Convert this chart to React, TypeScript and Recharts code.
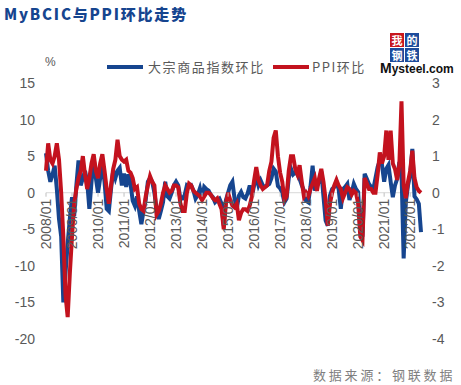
import React from "react";
import { LineChart, Line, XAxis, YAxis, ReferenceLine } from "recharts";

// MyBCIC month-on-month change (%), left axis
const bcic2008 = [5.4, 3.0, 1.5, 2.5, 3.7, 0.5, -3.6, -6.0, -15.0, -11.0, -7.0, -3.5];
const bcic2009 = [-0.6, -3.2, 1.0, 4.4, 1.0, 2.0, 3.0, 1.5, -2.2, 1.5, 4.7, 2.0];
const bcic2010 = [0.0, 2.0, 4.0, 1.5, -2.2, -2.5, 0.5, 3.0, 2.0, 3.0, 3.4, 1.0];
const bcic2011 = [2.6, 0.8, 2.5, 1.2, -1.1, -1.8, -0.5, -2.5, -4.3, -2.5, -1.0, 1.5];
const bcic2012 = [2.0, 1.5, 0.0, -2.2, -3.6, -2.5, -1.3, 1.5, -0.5, -0.8, 0.0, 1.0];
const bcic2013 = [1.5, 1.0, -0.8, -0.8, -0.3, 1.0, 0.8, 1.0, 0.3, -0.8, -0.3, 0.6];
const bcic2014 = [-0.8, 0.8, 0.5, 0.3, -0.3, -0.6, -1.3, -1.0, -0.8, -1.5, -4.5, -1.0];
const bcic2015 = [0.0, 1.0, 1.5, -0.8, -2.2, -0.4, 0.1, -0.6, -0.8, -0.1, 1.0, -0.5];
const bcic2016 = [1.0, 2.2, 1.0, 1.7, 1.0, 0.8, 1.0, 1.2, 2.0, 3.3, 2.9, 0.9];
const bcic2017 = [0.6, 0.0, -1.3, -0.8, 2.0, 3.3, 2.5, 2.8, 2.5, 1.9, 1.0, 0.3];
const bcic2018 = [-1.1, -1.3, 0.8, 3.7, 0.3, 1.0, 1.5, 2.9, -0.5, -3.8, -4.5, -0.4];
const bcic2019 = [0.5, 0.8, 1.5, 0.5, -2.2, 0.5, 0.8, 1.2, -1.0, 0.0, 1.2, 0.5];
const bcic2020 = [0.1, -5.0, -6.0, 2.6, 1.9, 1.2, 0.8, 0.5, 2.0, 3.5, 4.4, 3.8];
const bcic2021 = [1.5, 3.3, 3.8, 1.5, -0.6, 1.0, 1.9, 4.2, 3.0, -9.0, -1.3, 1.0];
const bcic2022 = [2.4, 6.0, -0.5, -0.9, -1.5, -5.4];

// PPI month-on-month change (%), right axis
const ppi2008 = [0.6, 1.35, 0.9, 0.8, 1.0, 1.35, 0.9, 0.0, -1.2, -2.8, -3.4, -2.2];
const ppi2009 = [-1.2, -0.3, 0.1, 0.4, 0.6, 1.0, 0.5, 0.1, 0.4, 0.8, 1.05, 0.6];
const ppi2010 = [0.4, 0.8, 1.05, 0.6, 0.1, -0.3, 0.2, 0.65, 0.9, 1.45, 1.0, 0.9];
const ppi2011 = [0.85, 0.9, 0.6, 0.55, 0.4, 0.1, 0.15, -0.3, -0.45, -0.5, -0.1, 0.2];
const ppi2012 = [0.45, 0.3, 0.2, -0.6, -0.5, -0.3, 0.0, 0.2, 0.1, 0.0, 0.05, 0.2];
const ppi2013 = [0.2, 0.15, -0.3, -0.5, -0.5, 0.0, 0.25, 0.2, 0.05, 0.0, -0.05, -0.1];
const ppi2014 = [-0.2, -0.1, 0.0, 0.0, -0.05, -0.15, -0.2, -0.15, -0.3, -0.45, -1.0, -0.3];
const ppi2015 = [0.0, -0.2, -0.35, -0.4, -0.3, -0.75, -0.55, -0.45, -0.45, -0.5, -0.35, -0.1];
const ppi2016 = [0.33, 0.7, 0.35, 0.2, 0.1, 0.15, 0.2, 0.6, 0.85, 1.5, 1.7, 1.0];
const ppi2017 = [0.55, 0.3, -0.2, -0.1, 0.6, 1.0, 1.0, 0.65, 0.5, 0.75, 0.3, -0.1];
const ppi2018 = [0.0, -0.1, 0.1, 0.25, 0.4, 0.05, 0.4, 0.65, 0.3, -0.2, -0.9, -0.3];
const ppi2019 = [0.0, 0.2, 0.35, 0.2, 0.1, -0.15, 0.0, 0.15, 0.1, -0.05, 0.05, 0.0];
const ppi2020 = [-0.3, -1.2, -1.3, 0.4, 0.25, 0.1, 0.1, 0.0, 0.0, 0.5, 1.1, 0.8];
const ppi2021 = [1.0, 1.7, 0.9, 1.7, 0.8, 0.65, 0.35, 0.75, 2.5, 0.2, -0.15, 0.3];
const ppi2022 = [0.6, 1.15, 0.4, 0.15, 0.05, 0.0];

const START_YEAR = 2008;
const leftTicks = [15, 10, 5, 0, -5, -10, -15, -20];
const rightTicks = [3, 2, 1, 0, -1, -2, -3, -4];

const bcic = [
  bcic2008, bcic2009, bcic2010, bcic2011, bcic2012, bcic2013, bcic2014, bcic2015,
  bcic2016, bcic2017, bcic2018, bcic2019, bcic2020, bcic2021, bcic2022,
].flat();
const ppi = [
  ppi2008, ppi2009, ppi2010, ppi2011, ppi2012, ppi2013, ppi2014, ppi2015,
  ppi2016, ppi2017, ppi2018, ppi2019, ppi2020, ppi2021, ppi2022,
].flat();

const chartData = bcic.map((v, i) => {
  const y = START_YEAR + Math.floor(i / 12);
  const m = (i % 12) + 1;
  return { month: `${y}/${m < 10 ? "0" + m : m}`, bcic: v, ppi: ppi[i] };
});

const W = 461;
const H = 385;
const TOP = 83;
const BOTTOM = 46;
const X_AXIS_H = 1;
const LEFT_W = 46;
const RIGHT_W = 40;
const LEFT_DOMAIN: [number, number] = [-20, 15];
const RIGHT_DOMAIN: [number, number] = [-4, 3];

const BLUE = "#16458f";
const RED = "#c3121e";
const GREY = "#595959";
const FONT = "'Liberation Sans', Arial, 'Noto Sans CJK SC', sans-serif";
const CJK = "'Noto Sans CJK SC', sans-serif";

// month labels hang below the zero line
const zeroY = TOP + ((H - TOP - BOTTOM) * LEFT_DOMAIN[1]) / (LEFT_DOMAIN[1] - LEFT_DOMAIN[0]);

const MonthTick = (props: any) => {
  const { x, payload } = props;
  return (
    <g transform={`translate(${x},${zeroY})`}>
      <line x1={0} x2={0} y1={0} y2={4} stroke="#bfbfbf" />
      <text
        transform="rotate(-90)"
        x={-6}
        y={0}
        dy={5}
        textAnchor="end"
        fill={GREY}
        fontSize={14}
        fontFamily={FONT}
      >
        {payload.value}
      </text>
    </g>
  );
};

const App = () => {
  return (
    <div
      style={{
        position: "absolute",
        left: 0,
        top: 0,
        width: W,
        height: H,
        background: "#fff",
        fontFamily: CJK,
      }}
    >
      <div
        style={{
          position: "absolute",
          left: 4,
          top: 3,
          fontSize: 15,
          fontWeight: 900,
          color: BLUE,
          letterSpacing: 1.8,
          whiteSpace: "nowrap",
        }}
      >
        MyBCIC与PPI环比走势
      </div>

      {/* legend */}
      <div style={{ position: "absolute", left: 107, top: 65, width: 36, height: 4, background: BLUE }} />
      <div
        style={{ position: "absolute", left: 148, top: 57, fontSize: 13, color: GREY, letterSpacing: 1.6, whiteSpace: "nowrap" }}
      >
        大宗商品指数环比
      </div>
      <div style={{ position: "absolute", left: 273, top: 65, width: 36, height: 4, background: RED }} />
      <div
        style={{ position: "absolute", left: 312, top: 57, fontSize: 13, color: GREY, letterSpacing: 1.5, whiteSpace: "nowrap" }}
      >
        PPI环比
      </div>

      {/* logo */}
      <div style={{ position: "absolute", left: 390, top: 33, display: "grid", gridTemplateColumns: "14px 14px", gap: 1 }}>
        {[
          ["我", "#c8161d"],
          ["的", "#1d4c9c"],
          ["钢", "#1d4c9c"],
          ["铁", "#1d4c9c"],
        ].map(([c, bg]) => (
          <div
            key={c}
            style={{ width: 14, height: 14, background: bg, color: "#fff", fontSize: 11, lineHeight: "14px", textAlign: "center", fontWeight: 700, overflow: "hidden" }}
          >
            {c}
          </div>
        ))}
      </div>
      <div
        style={{ position: "absolute", left: 380, top: 62, fontSize: 12, lineHeight: "12px", fontWeight: 700, color: "#111", fontFamily: FONT, whiteSpace: "nowrap" }}
      >
        <span style={{ fontSize: 14 }}>M</span>ysteel.com
      </div>

      <div style={{ position: "absolute", left: 45, top: 55, fontSize: 12, color: GREY, fontFamily: FONT }}>%</div>

      <LineChart
        width={W}
        height={H}
        data={chartData}
        margin={{ top: TOP, right: 0, bottom: BOTTOM - X_AXIS_H, left: 0 }}
      >
        <XAxis
          dataKey="month"
          interval={11}
          axisLine={false}
          tickLine={false}
          height={X_AXIS_H}
          tick={(p: any) => <MonthTick {...p} />}
        />
        <YAxis
          yAxisId="left"
          width={LEFT_W}
          domain={LEFT_DOMAIN}
          ticks={leftTicks}
          axisLine={false}
          tickLine={false}
          tickSize={0}
          tickMargin={11}
          tick={{ fill: GREY, fontSize: 14, fontFamily: FONT }}
        />
        <YAxis
          yAxisId="right"
          orientation="right"
          width={RIGHT_W}
          domain={RIGHT_DOMAIN}
          ticks={rightTicks}
          axisLine={false}
          tickLine={false}
          tickSize={0}
          tickMargin={11}
          tick={{ fill: GREY, fontSize: 14, fontFamily: FONT, textAnchor: "start" }}
        />
        <ReferenceLine yAxisId="left" y={0} stroke="#d9d9d9" strokeWidth={1} />
        <Line
          yAxisId="left"
          type="linear"
          dataKey="bcic"
          stroke={BLUE}
          strokeWidth={4}
          dot={false}
          isAnimationActive={false}
        />
        <Line
          yAxisId="right"
          type="linear"
          dataKey="ppi"
          stroke={RED}
          strokeWidth={4}
          dot={false}
          isAnimationActive={false}
        />
      </LineChart>

      <div
        style={{ position: "absolute", left: 313, top: 365, fontSize: 13, color: "#7f7f7f", letterSpacing: 2.8, whiteSpace: "nowrap" }}
      >
        数据来源：钢联数据
      </div>
    </div>
  );
};

export default App;
